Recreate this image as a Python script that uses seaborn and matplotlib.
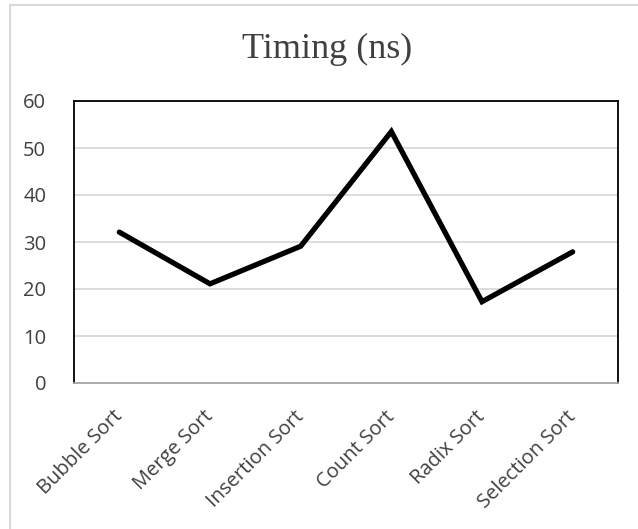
import pandas as pd
import matplotlib.pyplot as plt
import seaborn as sns
from matplotlib.lines import Line2D
from matplotlib.transforms import ScaledTranslation

# data
algorithms = ["Bubble Sort", "Merge Sort", "Insertion Sort", "Count Sort", "Radix Sort", "Selection Sort"]
timing_ns = [32.1, 21.1, 29.1, 53.5, 17.3, 27.9]
y_ticks = [0, 10, 20, 30, 40, 50, 60]

df = pd.DataFrame({"algorithm": algorithms, "timing": timing_ns})
df["pos"] = range(len(df))

sns.set_style("white")
plt.rcParams["font.family"] = ["Open Sans", "DejaVu Sans"]

fig = plt.figure(figsize=(6.38, 5.29), dpi=100)
ax = fig.add_axes([74 / 638, 1 - 383 / 529, 544 / 638, 282 / 529])

sns.lineplot(data=df, x="pos", y="timing", ax=ax, color="black", linewidth=3.8,
             solid_joinstyle="miter", solid_capstyle="round")

ax.set_xlim(-0.5, len(algorithms) - 0.5)
ax.set_ylim(0, 60)
ax.set_yticks(y_ticks)
ax.set_xticks(df["pos"])
ax.set_xticklabels(algorithms, rotation=45, ha="right", va="top", rotation_mode="anchor")
ax.set_xlabel("")
ax.set_ylabel("")
ax.yaxis.grid(True, color="#d9d9d9", linewidth=1.3)
ax.set_axisbelow(True)
ax.tick_params(axis="both", length=0, labelsize=14.5, labelcolor="#404040")
ax.tick_params(axis="y", pad=20)
ax.tick_params(axis="x", pad=17)

# nudge the rotated labels a bit to the left
shift = ScaledTranslation(-7 / 100, 0, fig.dpi_scale_trans)
for lbl in ax.get_xticklabels():
    lbl.set_transform(lbl.get_transform() + shift)

for side in ["left", "top", "right"]:
    ax.spines[side].set_visible(True)
    ax.spines[side].set_color("black")
    ax.spines[side].set_linewidth(1.3)
ax.spines["bottom"].set_color("#a6a6a6")
ax.spines["bottom"].set_linewidth(1.3)

fig.text(327 / 638, 1 - 49 / 529, "Timing (ns)", ha="center", va="center",
         fontsize=26, color="#404040", family=["Liberation Serif", "DejaVu Serif"])

# light chart-area border
fig.add_artist(Line2D([10 / 638, 10 / 638], [0, 1 - 5 / 529], color="#d9d9d9", linewidth=1.5, transform=fig.transFigure))
fig.add_artist(Line2D([10 / 638, 1], [1 - 5 / 529, 1 - 5 / 529], color="#d9d9d9", linewidth=1.5, transform=fig.transFigure))

fig.savefig("out.png", dpi=100, facecolor="white")
